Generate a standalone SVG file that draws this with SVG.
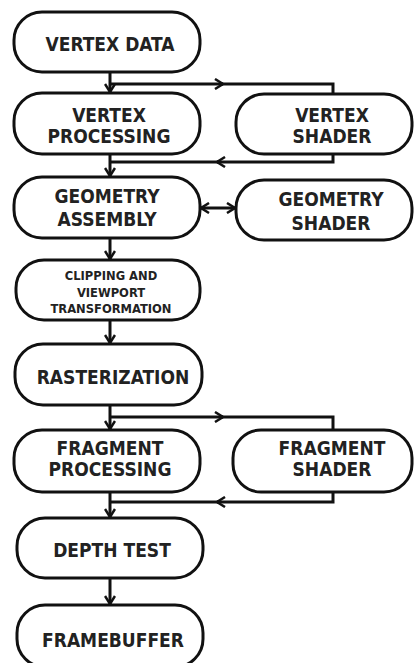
<svg xmlns="http://www.w3.org/2000/svg" width="414" height="663" viewBox="0 0 414 663">
<style>
.box{fill:#fff;stroke:#111;stroke-width:3}
.lbl{font-family:"DejaVu Sans Condensed","DejaVu Sans",sans-serif;font-stretch:condensed;font-weight:bold;font-size:19px;fill:#222;text-anchor:middle}
.sm{font-size:12.8px}
.con{fill:none;stroke:#111;stroke-width:3}
</style>
<defs>
<marker id="ah" viewBox="0 0 12 12" refX="10" refY="6" markerWidth="12" markerHeight="12" markerUnits="userSpaceOnUse" orient="auto-start-reverse">
<path d="M2,1 L10,6 L2,11" fill="none" stroke="#111" stroke-width="2.5"/>
</marker>
</defs>
<rect width="414" height="663" fill="#fff"/>
<g id="connectors">
<path class="con" d="M110,72 V92" marker-end="url(#ah)"/>
<path class="con" d="M110,84 H223" marker-end="url(#ah)"/>
<path class="con" d="M221,84 H333 V94"/>
<path class="con" d="M333,154 V162 H217" marker-end="url(#ah)"/>
<path class="con" d="M219,162 H110"/>
<path class="con" d="M110,154 V176" marker-end="url(#ah)"/>
<path class="con" d="M201,208 H235" marker-start="url(#ah)" marker-end="url(#ah)"/>
<path class="con" d="M110,238 V259" marker-end="url(#ah)"/>
<path class="con" d="M110,320 V343" marker-end="url(#ah)"/>
<path class="con" d="M110,405 V429" marker-end="url(#ah)"/>
<path class="con" d="M110,417 H223" marker-end="url(#ah)"/>
<path class="con" d="M221,417 H333 V430"/>
<path class="con" d="M333,492 V502 H217" marker-end="url(#ah)"/>
<path class="con" d="M219,502 H110"/>
<path class="con" d="M110,492 V517" marker-end="url(#ah)"/>
<path class="con" d="M110,578 V604" marker-end="url(#ah)"/>
</g>
<g id="vertex-data"><rect class="box" x="14" y="12" width="186" height="60" rx="28"/><text class="lbl" x="110" y="51">VERTEX DATA</text></g>
<g id="vertex-processing"><rect class="box" x="14" y="93" width="186" height="61" rx="28"/><text class="lbl" x="109" y="122">VERTEX</text><text class="lbl" x="109" y="143">PROCESSING</text></g>
<g id="vertex-shader"><rect class="box" x="236" y="94" width="176" height="60" rx="28"/><text class="lbl" x="332" y="122">VERTEX</text><text class="lbl" x="332" y="143">SHADER</text></g>
<g id="geometry-assembly"><rect class="box" x="14" y="177" width="186" height="61" rx="28"/><text class="lbl" x="107" y="203">GEOMETRY</text><text class="lbl" x="107" y="226">ASSEMBLY</text></g>
<g id="geometry-shader"><rect class="box" x="236" y="180" width="176" height="60" rx="28"/><text class="lbl" x="331" y="206">GEOMETRY</text><text class="lbl" x="331" y="230">SHADER</text></g>
<g id="clipping"><rect class="box" x="16" y="260" width="184" height="60" rx="28"/><text class="lbl sm" x="111" y="280">CLIPPING AND</text><text class="lbl sm" x="111" y="297">VIEWPORT</text><text class="lbl sm" x="111" y="313">TRANSFORMATION</text></g>
<g id="rasterization"><rect class="box" x="15" y="344" width="187" height="61" rx="28"/><text class="lbl" x="113" y="384">RASTERIZATION</text></g>
<g id="fragment-processing"><rect class="box" x="14" y="430" width="186" height="62" rx="28"/><text class="lbl" x="110" y="455">FRAGMENT</text><text class="lbl" x="110" y="476">PROCESSING</text></g>
<g id="fragment-shader"><rect class="box" x="233" y="430" width="179" height="62" rx="28"/><text class="lbl" x="332" y="455">FRAGMENT</text><text class="lbl" x="332" y="476">SHADER</text></g>
<g id="depth-test"><rect class="box" x="17" y="518" width="186" height="60" rx="28"/><text class="lbl" x="112" y="557">DEPTH TEST</text></g>
<g id="framebuffer"><rect class="box" x="17" y="605" width="186" height="62" rx="28"/><text class="lbl" x="113" y="647">FRAMEBUFFER</text></g>
</svg>
